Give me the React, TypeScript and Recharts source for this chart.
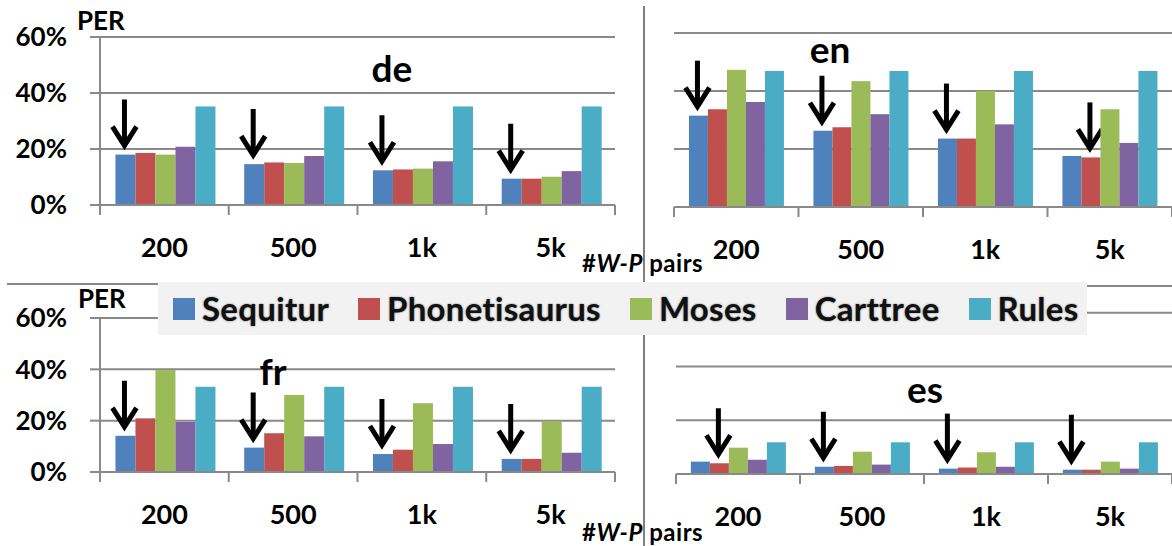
import React from 'react'
import { Bar, BarChart, CartesianGrid, XAxis, YAxis } from 'recharts'

const CATEGORIES = ['200', '500', '1k', '5k']
const SERIES = ['Sequitur', 'Phonetisaurus', 'Moses', 'Carttree', 'Rules']
const COLORS = ['#4F81BD', '#C0504D', '#9BBB59', '#8064A2', '#4BACC6']

// PER in %, one row per system (SERIES order), one column per #W-P pairs
const DE = [
  [18.0, 14.6, 12.4, 9.4],
  [18.6, 15.2, 12.7, 9.4],
  [18.0, 15.0, 13.0, 10.1],
  [20.8, 17.5, 15.6, 12.1],
  [35.2, 35.2, 35.2, 35.2],
]
const EN = [
  [31.5, 26.3, 23.6, 17.6],
  [33.7, 27.5, 23.6, 17.1],
  [47.3, 43.4, 40.0, 33.7],
  [36.2, 32.0, 28.5, 22.1],
  [46.9, 46.9, 46.9, 46.9],
]
const FR = [
  [14.1, 9.5, 7.0, 5.1],
  [20.9, 15.1, 8.7, 5.1],
  [39.7, 30.0, 26.8, 19.8],
  [19.5, 13.9, 10.9, 7.5],
  [33.2, 33.2, 33.2, 33.2],
]
const ES = [
  [4.6, 2.7, 2.0, 1.6],
  [4.0, 3.0, 2.4, 1.6],
  [9.8, 8.3, 8.1, 4.6],
  [5.3, 3.5, 2.7, 2.0],
  [11.8, 11.8, 11.8, 11.8],
]

const TICKS_60 = [0, 20, 40, 60]
const TICKS_70 = [0, 20, 40, 60, 70]

const GRID = '#898989'
const FONT = 'Lato, "Open Sans", sans-serif'
const Y_W = 100

interface PanelProps {
  rows: number[][]
  left: number
  top: number
  width: number
  height: number
  margin: { top: number; right: number; left: number; bottom: number }
  xHeight: number
  yMax: number
  yTicks: number[]
  showY: boolean
}

function Panel({ rows, left, top, width, height, margin, xHeight, yMax, yTicks, showY }: PanelProps) {
  const data = CATEGORIES.map((cat, i) => {
    const row: Record<string, number | string> = { cat }
    SERIES.forEach((s, j) => (row[s] = rows[j][i]))
    return row
  })
  // the arrow marks the lowest error in each group
  const best = CATEGORIES.map((_, i) => {
    let b = 0
    rows.forEach((r, j) => {
      if (r[i] < rows[b][i]) b = j
    })
    return b
  })
  const plotW = width - margin.left - margin.right - (showY ? Y_W : 0)
  const band = plotW / CATEGORIES.length

  const tick = (props: any) => {
    const { x, y, payload, index } = props
    return (
      <g>
        <line x1={x - band / 2} x2={x - band / 2} y1={y} y2={y + 10} stroke={GRID} strokeWidth={2} />
        {index === CATEGORIES.length - 1 && (
          <line x1={x + band / 2} x2={x + band / 2} y1={y} y2={y + 10} stroke={GRID} strokeWidth={2} />
        )}
        <text x={x} y={y + 52} textAnchor="middle" fontSize={27} fontWeight={700} fontFamily={FONT} fill="#000">
          {payload.value}
        </text>
      </g>
    )
  }

  const barShape = (j: number) => (p: any) => {
    const { x, y, width: w, height: h, index } = p
    const cx = x + w / 2 - 1
    const tip = y - 9
    return (
      <g>
        <rect x={x} y={y} width={w} height={Math.max(h, 0)} fill={COLORS[j]} />
        {best[index] === j && (
          <g stroke="#000" strokeWidth={5} fill="none">
            <line x1={cx} x2={cx} y1={tip - 46} y2={tip - 2} />
            <polyline points={`${cx - 12},${tip - 19} ${cx},${tip} ${cx + 12},${tip - 19}`} strokeLinejoin="miter" />
          </g>
        )}
      </g>
    )
  }

  return (
    <div style={{ position: 'absolute', left, top }}>
      <BarChart
        width={width}
        height={height}
        data={data}
        margin={margin}
        barCategoryGap="12%"
        barGap={0}
      >
        <CartesianGrid vertical={false} stroke={GRID} strokeWidth={2} />
        <XAxis
          dataKey="cat"
          height={xHeight}
          tickSize={0}
          tickMargin={0}
          tickLine={false}
          axisLine={{ stroke: GRID, strokeWidth: 2 }}
          tick={tick}
          interval={0}
        />
        <YAxis
          hide={!showY}
          width={showY ? Y_W : 0}
          domain={[0, yMax]}
          ticks={yTicks}
          tickFormatter={(v) => `${v}%`}
          tickSize={10}
          tickMargin={23}
          tickLine={{ stroke: GRID, strokeWidth: 2 }}
          axisLine={{ stroke: GRID, strokeWidth: 2 }}
          tick={{ fill: '#000', fontSize: 26, fontWeight: 700, fontFamily: FONT }}
          allowDataOverflow
        />
        {SERIES.map((s, j) => (
          <Bar key={s} dataKey={s} fill={COLORS[j]} isAnimationActive={false} shape={barShape(j)} />
        ))}
      </BarChart>
    </div>
  )
}

function AxisTitle({ x, y }: { x: number; y: number }) {
  return (
    <text x={x} y={y} fontSize={24} fontWeight={700} fontFamily={FONT} fill="#000" letterSpacing={0.5}>
      #<tspan fontStyle="italic">W-P</tspan> pairs
    </text>
  )
}

export default function App() {
  const titleStyle = { fontSize: 37, fontWeight: 700, fontFamily: FONT, fill: '#000' }
  return (
    <div
      style={{
        position: 'absolute',
        left: 0,
        top: 0,
        width: 1172,
        height: 546,
        background: '#fff',
        overflow: 'hidden',
        fontFamily: FONT,
      }}
    >
      <Panel
        rows={DE}
        left={0}
        top={0}
        width={644}
        height={280}
        margin={{ top: 37, right: 29, left: 0, bottom: 0 }}
        xHeight={75}
        yMax={60}
        yTicks={TICKS_60}
        showY
      />
      <Panel
        rows={EN}
        left={644}
        top={0}
        width={528}
        height={280}
        margin={{ top: 33, right: 0, left: 30, bottom: 0 }}
        xHeight={73}
        yMax={60}
        yTicks={TICKS_60}
        showY={false}
      />
      <Panel
        rows={FR}
        left={0}
        top={280}
        width={644}
        height={266}
        margin={{ top: 38, right: 29, left: 0, bottom: 0 }}
        xHeight={74}
        yMax={60}
        yTicks={TICKS_60}
        showY
      />
      <Panel
        rows={ES}
        left={644}
        top={280}
        width={528}
        height={266}
        margin={{ top: 6, right: 0, left: 32, bottom: 0 }}
        xHeight={72}
        yMax={70}
        yTicks={TICKS_70}
        showY={false}
      />

      <svg width={1172} height={546} style={{ position: 'absolute', left: 0, top: 0, zIndex: 1, pointerEvents: 'none' }}>
        <line x1={644} x2={644} y1={6} y2={546} stroke="#7f7f7f" strokeWidth={2} />
        <line x1={7} x2={160} y1={284} y2={284} stroke={GRID} strokeWidth={2} />
        <text x={77} y={30} fontSize={26} fontWeight={700} fontFamily={FONT} fill="#000">PER</text>
        <text x={78} y={308} fontSize={26} fontWeight={700} fontFamily={FONT} fill="#000">PER</text>
        <text x={392} y={82} textAnchor="middle" {...titleStyle}>de</text>
        <text x={830} y={63} textAnchor="middle" {...titleStyle}>en</text>
        <text x={273} y={385} textAnchor="middle" {...titleStyle}>fr</text>
        <text x={925} y={403} textAnchor="middle" {...titleStyle}>es</text>
        <AxisTitle x={582} y={272} />
        <AxisTitle x={582} y={541} />
      </svg>

      <div
        style={{
          position: 'absolute',
          left: 158,
          top: 282,
          width: 929,
          height: 53,
          background: '#f2f2f2',
          zIndex: 2,
          display: 'flex',
          alignItems: 'center',
          paddingLeft: 15,
          boxSizing: 'border-box',
        }}
      >
        {SERIES.map((s, j) => (
          <div key={s} style={{ display: 'flex', alignItems: 'center', marginRight: 29 }}>
            <span style={{ width: 22, height: 22, background: COLORS[j], marginRight: 7, display: 'inline-block' }} />
            <span
              style={{
                fontSize: 33,
                fontWeight: 700,
                color: '#111',
                lineHeight: 1,
                letterSpacing: 0.3,
                textShadow: '0 0 2px rgba(0,0,0,0.55)',
              }}
            >
              {s}
            </span>
          </div>
        ))}
      </div>
    </div>
  )
}
